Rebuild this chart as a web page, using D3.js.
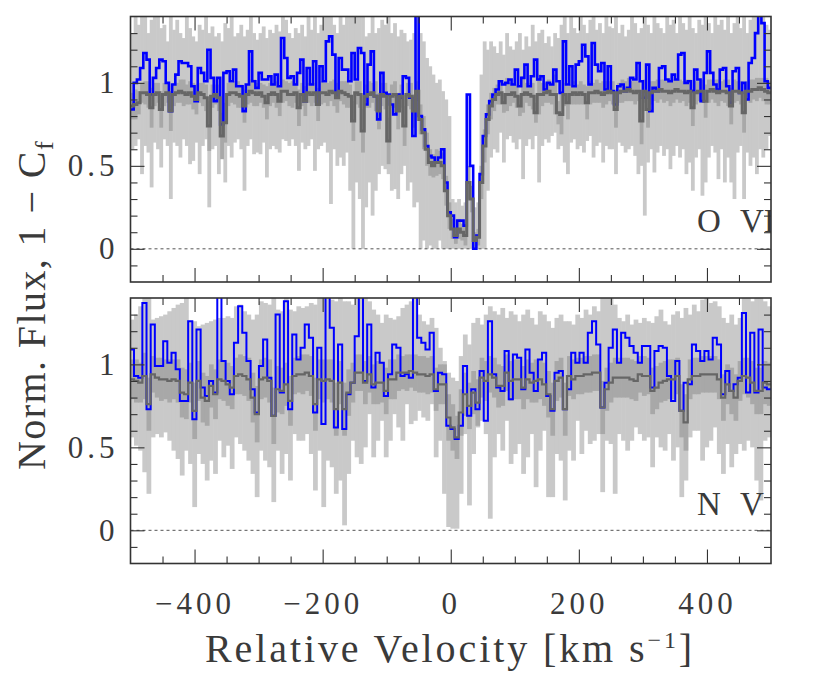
<!DOCTYPE html>
<html lang="en">
<head>
<meta charset="utf-8" />
<title>O VI and N V velocity profiles</title>
<script src="https://d3js.org/d3.v7.min.js"></script>
<style>
  body { margin: 0; background: #fff; }
  text { font-family: "Liberation Serif", serif; fill: #3a3a3a; }
</style>
</head>
<body>
<div id="chart"></div>
<script>
// ---- data: O VI, 5 km/s bins starting at -500 ----
const binStartOVI = -500, binWidthOVI = 5;
const fluxOVI = [0.84,1.00,1.02,1.09,1.18,1.14,0.93,1.03,1.09,1.14,
 1.13,1.00,0.83,0.99,1.05,1.13,1.12,1.12,1.10,0.98,
 0.89,1.09,1.06,1.01,1.20,1.03,0.89,1.03,0.75,1.06,
 1.07,1.01,1.08,0.98,0.98,0.83,0.99,1.19,1.01,0.97,
 1.06,1.02,1.02,1.04,0.99,1.05,0.98,1.27,1.15,1.03,
 1.04,0.99,1.06,1.14,0.89,1.09,0.99,1.13,0.87,1.10,
 1.01,1.25,1.28,1.17,0.91,1.15,1.08,1.08,1.01,1.18,
 1.02,1.21,1.18,0.87,1.11,1.19,0.92,0.78,1.06,0.94,
 0.93,0.87,0.81,0.93,0.91,1.04,1.03,0.91,0.68,1.45,
 0.80,0.72,0.62,0.56,0.55,0.52,0.55,0.60,0.40,0.22,
 0.20,0.07,0.17,0.17,0.14,0.93,0.50,0.00,0.08,0.45,
 0.68,0.81,0.89,0.93,0.96,1.01,0.99,1.00,1.02,0.99,
 1.08,0.98,1.03,1.11,0.98,1.04,1.14,1.02,1.04,0.96,
 1.00,0.99,1.08,1.01,0.94,1.25,0.99,1.10,0.98,1.11,
 1.13,1.23,1.16,0.99,1.24,1.11,1.07,1.12,0.96,1.10,
 0.95,0.87,0.98,0.99,0.95,0.97,1.03,1.02,1.12,1.01,
 0.91,1.11,0.83,0.97,0.95,1.09,1.10,1.02,1.01,1.05,
 1.02,1.17,1.18,1.00,1.01,0.95,1.08,1.02,0.89,1.06,
 1.19,1.06,0.99,0.96,1.08,1.09,0.98,0.88,1.07,1.09,
 0.94,1.00,0.90,1.12,1.15,1.30,1.42,1.36,1.01,0.97];
const cfOVI = [0.86,0.87,0.88,0.94,0.94,0.93,0.85,0.93,0.94,0.84,
 0.93,0.94,0.83,0.93,0.94,0.95,0.94,0.93,0.94,0.92,
 0.90,0.94,0.93,0.91,0.74,0.92,0.93,0.91,0.68,0.76,
 0.93,0.94,0.94,0.93,0.92,0.86,0.93,0.95,0.94,0.93,
 0.94,0.92,0.88,0.93,0.94,0.93,0.89,0.95,0.95,0.93,
 0.93,0.94,0.85,0.93,0.89,0.94,0.93,0.94,0.87,0.94,
 0.94,0.93,0.95,0.94,0.91,0.95,0.94,0.93,0.92,0.77,
 0.94,0.93,0.71,0.92,0.93,0.94,0.92,0.83,0.93,0.92,
 0.65,0.92,0.93,0.83,0.92,0.74,0.93,0.92,0.83,0.95,
 0.78,0.70,0.60,0.52,0.50,0.52,0.52,0.50,0.35,0.20,
 0.12,0.08,0.12,0.10,0.08,0.40,0.30,0.05,0.07,0.40,
 0.62,0.78,0.86,0.90,0.93,0.94,0.88,0.93,0.93,0.94,
 0.92,0.86,0.93,0.94,0.93,0.92,0.82,0.93,0.93,0.94,
 0.95,0.93,0.93,0.82,0.81,0.93,0.88,0.93,0.94,0.93,
 0.94,0.93,0.88,0.94,0.94,0.95,0.94,0.93,0.94,0.95,
 0.94,0.84,0.94,0.95,0.95,0.96,0.95,0.94,0.95,0.77,
 0.95,0.84,0.94,0.95,0.95,0.96,0.95,0.95,0.94,0.95,
 0.96,0.95,0.95,0.94,0.95,0.85,0.94,0.95,0.95,0.89,
 0.95,0.96,0.95,0.94,0.95,0.95,0.94,0.86,0.95,0.95,
 0.94,0.82,0.95,0.95,0.96,0.96,0.97,0.96,0.95,0.94];
const cfErrOVI = [.08,.09,.07,.06,.07,.08,.12,.07,.06,.11,
 .07,.06,.12,.07,.06,.07,.08,.06,.07,.08,
 .09,.06,.07,.08,.15,.07,.06,.08,.14,.12,
 .07,.06,.07,.08,.07,.10,.06,.07,.08,.07,
 .06,.07,.10,.07,.06,.08,.09,.07,.06,.07,
 .08,.06,.11,.07,.09,.06,.07,.06,.10,.07,
 .06,.07,.06,.08,.09,.06,.07,.08,.07,.12,
 .07,.08,.13,.07,.08,.06,.09,.11,.07,.08,
 .14,.07,.08,.11,.07,.12,.07,.08,.10,.06,
 .09,.10,.10,.08,.07,.08,.07,.08,.09,.08,
 .06,.05,.06,.05,.06,.10,.08,.05,.05,.10,
 .10,.09,.08,.07,.06,.07,.06,.10,.07,.06,
 .07,.06,.11,.06,.07,.08,.06,.12,.07,.06,
 .07,.06,.12,.07,.12,.07,.10,.06,.07,.06,
 .07,.06,.10,.07,.06,.07,.06,.08,.07,.06,
 .07,.11,.06,.07,.06,.07,.06,.07,.06,.14,
 .07,.11,.07,.06,.07,.06,.07,.06,.08,.07,
 .06,.07,.06,.08,.07,.11,.07,.06,.07,.10,
 .07,.06,.07,.08,.06,.07,.08,.11,.07,.06,
 .07,.12,.06,.07,.06,.07,.06,.07,.08,.07];
const errLoOVI = [0.60,0.62,0.66,0.45,0.62,0.58,0.37,0.64,0.60,0.49,
 0.66,0.62,0.30,0.64,0.62,0.55,0.66,0.62,0.51,0.53,
 0.64,0.45,0.62,0.66,0.25,0.60,0.62,0.45,0.55,0.40,
 0.62,0.55,0.64,0.66,0.60,0.35,0.62,0.66,0.57,0.58,
 0.57,0.64,0.43,0.60,0.62,0.60,0.58,0.66,0.65,0.62,
 0.66,0.62,0.47,0.64,0.60,0.62,0.66,0.47,0.60,0.62,
 0.64,0.58,0.27,0.60,0.50,0.55,0.50,0.58,0.35,0.00,
 0.40,0.30,0.00,0.25,0.40,0.20,0.35,0.45,0.50,0.48,
 0.45,0.35,0.36,0.30,0.45,0.50,0.35,0.40,0.25,0.28,
 0.00,0.05,0.00,0.02,0.00,0.00,0.05,0.00,0.00,0.00,
 0.00,0.00,0.00,0.00,0.00,0.00,0.00,0.00,0.00,0.00,
 0.00,0.35,0.55,0.60,0.58,0.70,0.52,0.66,0.68,0.64,
 0.60,0.66,0.42,0.62,0.66,0.60,0.68,0.40,0.62,0.66,
 0.64,0.68,0.70,0.60,0.62,0.52,0.45,0.64,0.66,0.60,
 0.62,0.58,0.65,0.68,0.55,0.62,0.64,0.52,0.62,0.60,
 0.60,0.45,0.64,0.62,0.58,0.60,0.62,0.56,0.45,0.50,
 0.20,0.52,0.60,0.46,0.58,0.62,0.56,0.60,0.48,0.56,
 0.62,0.55,0.60,0.45,0.52,0.35,0.55,0.60,0.32,0.40,
 0.55,0.62,0.58,0.42,0.60,0.40,0.55,0.40,0.30,0.58,
 0.62,0.30,0.58,0.50,0.55,0.45,0.60,0.55,0.60,0.68];
const errHiOVI = [1.30,1.42,1.35,1.42,1.42,1.30,1.38,1.42,1.42,1.33,
 1.35,1.25,1.42,1.32,1.38,1.30,1.27,1.42,1.33,1.28,
 1.25,1.35,1.32,1.42,1.30,1.34,1.28,1.30,1.25,1.36,
 1.33,1.42,1.28,1.30,1.35,1.28,1.32,1.42,1.30,1.26,
 1.30,1.34,1.27,1.32,1.30,1.35,1.31,1.42,1.38,1.30,
 1.27,1.33,1.30,1.35,1.28,1.42,1.32,1.42,1.30,1.35,
 1.42,1.42,1.42,1.35,1.30,1.42,1.35,1.40,1.42,1.42,
 1.42,1.42,1.42,1.28,1.30,1.42,1.30,1.33,1.38,1.35,
 1.42,1.30,1.36,1.28,1.32,1.30,1.25,1.26,1.30,1.42,
 1.30,1.25,1.15,1.10,1.05,1.00,1.02,0.95,0.90,0.80,
 0.30,0.28,0.30,0.26,0.28,0.35,0.30,0.25,0.28,1.05,
 1.25,1.20,1.25,1.22,1.18,1.25,1.17,1.30,1.22,1.20,
 1.25,1.30,1.20,1.28,1.22,1.35,1.25,1.30,1.32,1.24,
 1.28,1.22,1.30,1.27,1.35,1.40,1.30,1.42,1.33,1.30,
 1.42,1.35,1.30,1.38,1.42,1.32,1.36,1.30,1.40,1.34,
 1.33,1.42,1.30,1.35,1.28,1.32,1.42,1.36,1.30,1.33,
 1.42,1.35,1.30,1.42,1.36,1.33,1.30,1.42,1.35,1.38,
 1.30,1.42,1.36,1.32,1.42,1.33,1.30,1.38,1.35,1.42,
 1.36,1.30,1.42,1.35,1.38,1.32,1.42,1.30,1.36,1.40,
 1.33,1.42,1.30,1.38,1.42,1.42,1.42,1.42,1.35,1.32];

// ---- data: N V, 6.5 km/s bins starting at -501 ----
const binStartNV = -501, binWidthNV = 6.5;
const fluxNV = [1.09,0.93,0.92,1.37,0.73,1.24,0.99,0.99,1.14,1.01,
 1.07,0.97,0.78,0.78,1.26,0.67,1.21,0.86,0.81,0.90,
 0.83,1.42,1.02,0.90,0.82,1.13,1.35,1.19,1.02,0.85,
 0.71,0.99,1.15,0.92,0.69,1.30,0.83,1.38,0.73,1.18,
 1.03,1.10,1.24,1.16,0.71,1.10,0.64,1.45,1.22,0.62,
 1.12,0.61,0.82,0.89,1.17,1.42,0.90,1.24,0.86,1.07,
 1.01,0.81,0.94,1.12,1.10,0.93,0.94,0.92,1.42,1.16,
 1.13,1.09,1.19,0.84,0.95,0.94,0.63,0.61,0.55,0.63,
 0.99,0.69,0.85,0.73,0.96,0.66,1.26,0.94,0.86,0.84,
 1.08,0.79,1.06,1.04,0.85,1.09,0.95,0.84,1.03,1.07,
 0.81,0.72,0.95,0.96,0.73,0.85,1.07,1.01,1.07,1.01,
 1.19,1.26,1.12,0.74,0.89,1.10,1.21,1.01,1.19,1.16,
 1.11,1.07,1.01,1.11,1.11,0.86,1.08,1.11,1.10,0.93,
 0.78,1.02,0.72,0.89,0.88,1.12,1.08,1.02,1.08,1.03,
 1.16,1.12,0.82,0.96,0.84,0.88,0.92,1.31,0.83,1.19,
 0.83,1.21,0.86,0.85,0.85];
const cfNV = [0.91,0.90,0.89,0.93,0.76,0.94,0.92,0.91,0.91,0.90,
 0.91,0.90,0.83,0.82,0.89,0.72,0.90,0.80,0.78,0.87,
 0.82,0.91,0.90,0.88,0.86,0.93,0.94,0.93,0.91,0.80,
 0.70,0.91,0.92,0.90,0.69,0.85,0.84,0.88,0.78,0.93,
 0.94,0.94,0.95,0.93,0.76,0.91,0.90,0.91,0.90,0.73,
 0.89,0.73,0.83,0.89,0.95,0.95,0.89,0.94,0.88,0.89,
 0.89,0.84,0.91,0.91,0.95,0.95,0.95,0.96,0.95,0.94,
 0.94,0.93,0.94,0.85,0.88,0.88,0.68,0.62,0.56,0.71,
 0.82,0.75,0.83,0.77,0.92,0.90,0.94,0.92,0.87,0.87,
 0.95,0.90,0.91,0.91,0.86,0.91,0.89,0.90,0.91,0.88,
 0.82,0.73,0.90,0.92,0.73,0.93,0.91,0.93,0.93,0.94,
 0.94,0.95,0.95,0.74,0.85,0.89,0.92,0.92,0.92,0.92,
 0.91,0.90,0.94,0.93,0.93,0.84,0.86,0.89,0.90,0.91,
 0.91,0.93,0.72,0.65,0.91,0.93,0.93,0.94,0.94,0.94,
 0.94,0.91,0.80,0.88,0.84,0.80,0.90,0.93,0.92,0.89,
 0.84,0.84,0.89,0.88,0.88];
const cfErrNV = [.12,.13,.12,.14,.16,.11,.12,.13,.12,.13,
 .12,.13,.15,.15,.12,.17,.12,.15,.15,.13,
 .15,.12,.12,.13,.13,.11,.12,.12,.13,.15,
 .17,.12,.12,.13,.17,.14,.14,.13,.15,.11,
 .11,.12,.11,.12,.16,.12,.13,.12,.13,.16,
 .13,.16,.14,.12,.11,.11,.13,.11,.12,.13,
 .12,.14,.12,.12,.11,.10,.11,.10,.11,.11,
 .11,.11,.11,.13,.12,.12,.14,.14,.13,.14,
 .13,.14,.13,.14,.12,.12,.11,.12,.13,.12,
 .11,.12,.12,.12,.13,.12,.12,.13,.12,.13,
 .14,.16,.12,.12,.16,.12,.12,.11,.11,.11,
 .11,.11,.11,.16,.13,.12,.12,.12,.12,.12,
 .12,.12,.11,.12,.11,.14,.13,.12,.12,.12,
 .12,.11,.16,.17,.12,.11,.11,.11,.11,.11,
 .11,.12,.14,.12,.14,.14,.12,.11,.12,.13,
 .14,.14,.13,.13,.13];
const errLoNV = [0.56,0.51,0.48,0.35,0.22,0.56,0.58,0.56,0.59,0.54,
 0.48,0.43,0.33,0.48,0.40,0.14,0.46,0.40,0.30,0.42,
 0.34,0.54,0.44,0.51,0.37,0.56,0.52,0.48,0.42,0.34,
 0.20,0.48,0.42,0.38,0.17,0.48,0.34,0.46,0.30,0.58,
 0.54,0.54,0.58,0.46,0.24,0.48,0.14,0.42,0.38,0.22,
 0.30,0.03,0.34,0.54,0.44,0.40,0.50,0.70,0.44,0.54,
 0.66,0.44,0.54,0.70,0.62,0.54,0.76,0.64,0.66,0.72,
 0.68,0.66,0.76,0.44,0.54,0.22,0.02,0.01,0.01,0.22,
 0.58,0.15,0.46,0.62,0.66,0.58,0.07,0.44,0.58,0.48,
 0.66,0.40,0.46,0.52,0.34,0.44,0.58,0.26,0.48,0.60,
 0.20,0.20,0.46,0.42,0.18,0.48,0.42,0.66,0.46,0.60,
 0.52,0.54,0.58,0.23,0.54,0.52,0.22,0.58,0.54,0.48,
 0.54,0.62,0.58,0.54,0.56,0.38,0.56,0.50,0.48,0.58,
 0.42,0.50,0.20,0.30,0.56,0.60,0.60,0.42,0.50,0.54,
 0.62,0.46,0.34,0.52,0.38,0.46,0.52,0.48,0.54,0.50,
 0.30,0.18,0.54,0.56,0.56];
const errHiNV = [1.27,1.30,1.35,1.42,1.42,1.27,1.28,1.29,1.30,1.32,
 1.34,1.36,1.37,1.42,1.26,1.26,1.23,1.24,1.25,1.26,
 1.27,1.28,1.28,1.29,1.28,1.35,1.36,1.32,1.30,1.27,
 1.30,1.38,1.37,1.36,1.40,1.33,1.32,1.40,1.33,1.32,
 1.35,1.34,1.35,1.37,1.36,1.40,1.40,1.42,1.39,1.38,
 1.40,1.38,1.38,1.36,1.40,1.42,1.40,1.38,1.33,1.30,
 1.25,1.30,1.28,1.27,1.29,1.34,1.36,1.38,1.42,1.30,
 1.26,1.24,1.28,1.22,1.10,1.02,0.95,0.92,0.90,1.05,
 1.18,1.12,1.25,1.28,1.24,1.30,1.35,1.32,1.30,1.34,
 1.28,1.32,1.30,1.26,1.30,1.33,1.28,1.24,1.32,1.30,
 1.26,1.22,1.28,1.30,1.26,1.26,1.24,1.30,1.28,1.33,
 1.30,1.35,1.32,1.40,1.42,1.40,1.36,1.28,1.26,1.30,
 1.24,1.27,1.25,1.28,1.26,1.25,1.29,1.33,1.26,1.24,
 1.30,1.32,1.28,1.34,1.30,1.36,1.32,1.39,1.40,1.37,
 1.38,1.35,1.28,1.25,1.30,1.24,1.28,1.42,1.40,1.38,
 1.42,1.42,1.38,1.35,1.33];

// axis ticks
const xMajor = [-400, -200, 0, 200, 400];
const xMinor = [-450, -350, -300, -250, -150, -100, -50, 50, 100, 150, 250, 300, 350, 450];
const yMajor = [0, 0.5, 1];
const yMinor = [-0.1, 0.1, 0.2, 0.3, 0.4, 0.6, 0.7, 0.8, 0.9, 1.1, 1.2, 1.3];

// ---- layout ----
const svg = d3.select("#chart").append("svg")
    .attr("width", 822)
    .attr("height", 682);

const left = 130.5, right = 771;
const x = d3.scaleLinear().domain([-500, 500]).range([left, right]);

const panels = [
    { id: "ovi", label: ["O", "VI"], top: 16.5, bottom: 282, start: binStartOVI, width: binWidthOVI,
      flux: fluxOVI, cf: cfOVI, cfErr: cfErrOVI, lo: errLoOVI, hi: errHiOVI, blueW: 2.6, grayW: 3, labelY: 232 },
    { id: "nv", label: ["N", "V"], top: 298, bottom: 563.5, start: binStartNV, width: binWidthNV,
      flux: fluxNV, cf: cfNV, cfErr: cfErrNV, lo: errLoNV, hi: errHiNV, blueW: 2, grayW: 2.2, labelY: 515 }
];

panels.forEach((p, pi) => {
    const y = d3.scaleLinear().domain([-0.2, 1.4]).range([p.bottom, p.top]);

    svg.append("clipPath").attr("id", "clip-" + p.id)
        .append("rect")
        .attr("x", left).attr("y", p.top)
        .attr("width", right - left).attr("height", p.bottom - p.top);

    const g = svg.append("g").attr("clip-path", `url(#clip-${p.id})`);
    const edge = i => p.start + i * p.width;

    // light grey error bars (slight overlap so no seams show between bins)
    g.append("g").selectAll("rect").data(p.hi).enter().append("rect")
        .attr("x", (d, i) => x(edge(i)))
        .attr("width", (d, i) => x(edge(i + 1)) - x(edge(i)) + 0.6)
        .attr("y", d => y(d))
        .attr("height", (d, i) => y(p.lo[i]) - y(d))
        .attr("fill", "#c9c9c9");

    // medium grey band around 1 - Cf
    g.append("g").selectAll("rect").data(p.cf).enter().append("rect")
        .attr("x", (d, i) => x(edge(i)))
        .attr("width", (d, i) => x(edge(i + 1)) - x(edge(i)) + 0.6)
        .attr("y", (d, i) => y(d + p.cfErr[i]))
        .attr("height", (d, i) => y(d - p.cfErr[i]) - y(d + p.cfErr[i]))
        .attr("fill", "#a8a8a8");

    // zero line
    g.append("line")
        .attr("x1", x(-500)).attr("x2", x(500))
        .attr("y1", y(0)).attr("y2", y(0))
        .attr("stroke", "#555").attr("stroke-width", 1)
        .attr("stroke-dasharray", "3,3");

    const stepLine = d3.line()
        .x(d => x(d[0]))
        .y(d => y(d[1]))
        .curve(d3.curveStepAfter);
    const pts = arr => arr.map((v, i) => [edge(i), v]).concat([[edge(arr.length), arr[arr.length - 1]]]);

    g.append("path")
        .attr("d", stepLine(pts(p.flux)))
        .attr("fill", "none")
        .attr("stroke", "#0000ff")
        .attr("stroke-width", p.blueW);

    g.append("path")
        .attr("d", stepLine(pts(p.cf)))
        .attr("fill", "none")
        .attr("stroke", "#666")
        .attr("stroke-width", p.grayW);

    // ion label
    const lab = g.append("text")
        .attr("y", p.labelY)
        .style("font-size", "33px");
    lab.append("tspan").attr("x", 697).text(p.label[0]);
    lab.append("tspan").attr("x", 740).text(p.label[1]);

    // ticks on all four sides, pointing inward
    const isLast = pi === panels.length - 1;
    const addAxis = (axis, tx, ty) => {
        const a = svg.append("g").attr("transform", `translate(${tx},${ty})`).call(axis);
        a.select(".domain").remove();
        a.selectAll(".tick line").attr("stroke", "#333").attr("stroke-width", 1.1);
        a.selectAll("text").style("font-family", '"Liberation Serif", serif')
            .style("font-size", "31px").style("letter-spacing", "4px").attr("fill", "#3a3a3a");
        return a;
    };
    addAxis(d3.axisBottom(x).tickValues(xMinor).tickSize(-7).tickFormat(""), 0, p.bottom);
    addAxis(d3.axisBottom(x).tickValues(xMajor).tickSize(-14).tickPadding(28)
        .tickFormat(isLast ? d3.format("d") : ""), 0, p.bottom);
    addAxis(d3.axisTop(x).tickValues(xMinor).tickSize(-7).tickFormat(""), 0, p.top);
    addAxis(d3.axisTop(x).tickValues(xMajor).tickSize(-14).tickFormat(""), 0, p.top);
    addAxis(d3.axisLeft(y).tickValues(yMinor).tickSize(-7).tickFormat(""), left, 0);
    addAxis(d3.axisLeft(y).tickValues(yMajor).tickSize(-14).tickPadding(12)
        .tickFormat(d => d === 0.5 ? "0.5" : d3.format("d")(d)), left, 0);
    addAxis(d3.axisRight(y).tickValues(yMinor).tickSize(-7).tickFormat(""), right, 0);
    addAxis(d3.axisRight(y).tickValues(yMajor).tickSize(-14).tickFormat(""), right, 0);

    // frame
    svg.append("rect")
        .attr("x", left).attr("y", p.top)
        .attr("width", right - left).attr("height", p.bottom - p.top)
        .attr("fill", "none").attr("stroke", "#333").attr("stroke-width", 1.6);
});

// stretch a title to a target width the way the plotting font spaces its glyphs
function fitWidth(sel, target) {
    const node = sel.node();
    const n = node.textContent.length;
    const w = node.getComputedTextLength();
    sel.style("letter-spacing", ((target - w) / n) + "px");
}

const xTitle = svg.append("text")
    .attr("x", 205).attr("y", 662)
    .style("font-size", "40px");
xTitle.append("tspan").text("Relative Velocity [km s");
xTitle.append("tspan").attr("dy", -14).style("font-size", "24px").text("−1");
xTitle.append("tspan").attr("dy", 14).text("]");
fitWidth(xTitle, 490);

const yTitle = svg.append("text")
    .attr("transform", "translate(45,470) rotate(-90)")
    .style("font-size", "40px");
yTitle.append("tspan").text("Norm. Flux, 1 − C");
yTitle.append("tspan").attr("dy", 8).style("font-size", "26px").text("f");
fitWidth(yTitle, 330);
</script>
</body>
</html>
